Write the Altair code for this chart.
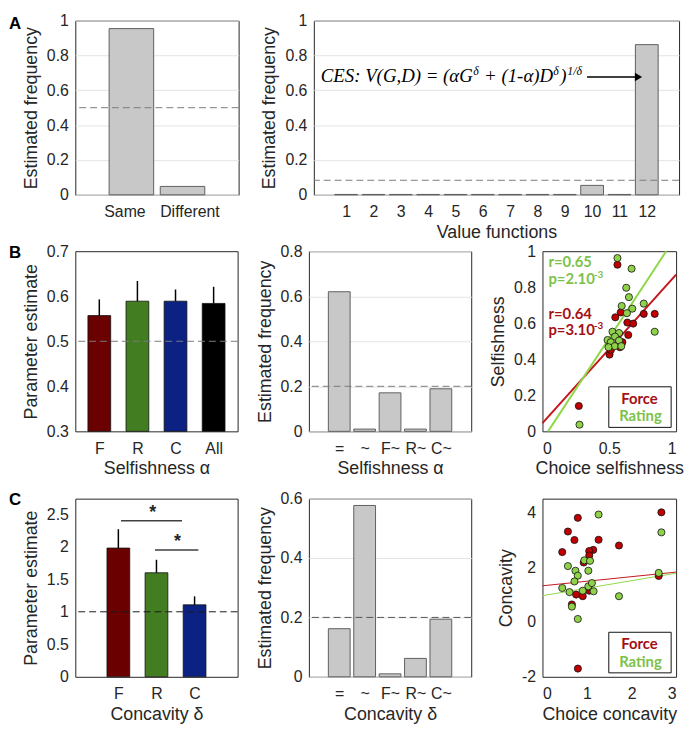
import json
import altair as alt
import pandas as pd

# ---------------- data ----------------
# A (left): same vs different model
same_diff_labels = ["Same", "Different"]
same_diff_freq = [0.954, 0.048]

# A (right): value functions
value_fn_labels = ["1", "2", "3", "4", "5", "6", "7", "8", "9", "10", "11", "12"]
value_fn_freq = [0.002, 0.002, 0.002, 0.002, 0.002, 0.002, 0.002, 0.002, 0.002, 0.054, 0.002, 0.862]

# B (left): selfishness alpha estimates
sel_groups = ["F", "R", "C", "All"]
sel_est = [0.557, 0.589, 0.589, 0.584]
sel_err = [0.593, 0.634, 0.615, 0.621]

# B (middle) / C (middle): model frequencies
model_labels = ["=", "~", "F~", "R~", "C~"]
sel_model_freq = [0.620, 0.010, 0.171, 0.010, 0.189]
conc_model_freq = [0.162, 0.577, 0.010, 0.062, 0.194]

# C (left): concavity delta estimates
conc_groups = ["F", "R", "C"]
conc_est = [1.98, 1.60, 1.107]
conc_err = [2.27, 1.80, 1.237]

# B (right): selfishness scatter
selF_x = [0.272, 0.502, 0.512, 0.545, 0.561, 0.585, 0.635, 0.679, 0.758, 0.840, 0.642, 0.598, 0.580]
selF_y = [0.141, 0.426, 0.452, 0.633, 0.925, 0.660, 0.604, 0.598, 0.652, 0.652, 0.535, 0.495, 0.467]
selR_x = [0.277, 0.561, 0.667, 0.627, 0.647, 0.593, 0.672, 0.758, 0.632, 0.840, 0.524, 0.573,
          0.543, 0.487, 0.511, 0.573, 0.541, 0.590, 0.494]
selR_y = [0.037, 0.962, 0.903, 0.797, 0.745, 0.696, 0.681, 0.709, 0.656, 0.553, 0.553, 0.546,
          0.526, 0.507, 0.495, 0.504, 0.473, 0.473, 0.467]
selF_fit_x = [0.0, 1.0]
selF_fit_y = [0.046, 0.870]
selR_fit_x = [0.042, 0.926]
selR_fit_y = [0.0, 1.0]

# C (right): concavity scatter
concF_x = [0.793, 0.571, 0.718, 0.444, 1.26, 1.718, 1.14, 1.05, 1.05, 0.926, 0.756, 0.904, 1.05,
           0.66, 0.795, 2.67, 2.61]
concF_y = [3.80, 3.30, 2.99, 2.55, 3.00, 2.79, 2.63, 2.59, 2.43, 2.17, 1.00, 0.94, 1.14,
           0.64, -1.70, 4.00, 1.68]
concR_x = [1.26, 0.571, 0.74, 0.793, 0.94, 1.067, 1.03, 0.718, 0.444, 0.607, 0.904, 1.03, 1.11,
           1.148, 1.718, 0.66, 0.793, 2.67, 2.61]
concR_y = [3.92, 2.04, 1.87, 1.69, 2.25, 2.23, 1.87, 1.48, 1.24, 1.09, 1.14, 1.30, 1.42,
           1.12, 0.94, 0.56, 0.11, 3.27, 1.79]
concF_fit_x = [0.0, 3.0]
concF_fit_y = [1.32, 1.82]
concR_fit_x = [0.0, 3.0]
concR_fit_y = [0.96, 1.78]

# ---------------- style ----------------
FONT = "Liberation Sans"
TXT = "#262626"
FILL = "#c8c8c8"
EDGE = "#5f5f5f"
GRID = "#e4e4e4"
DARKRED = "#6a0000"
DARKGREEN = "#437d22"
DARKBLUE = "#0c2283"
PT_RED = "#c00000"
PT_GREEN = "#8fd24a"
LN_RED = "#c4161c"
LN_GREEN = "#90d84a"
TX_RED = "#a50f15"
TX_GREEN = "#7cc24a"


def y_axis(values, title, grid):
    return alt.Axis(values=values, labelExpr="toString(datum.value)", title=title, grid=grid,
                    gridColor=GRID, ticks=False, domain=False, labelPadding=7, titlePadding=6,
                    labelOverlap=False, tickCount=len(values))


def x_axis(values, labels, title, label_offset=None):
    kw = dict(values=values, labelExpr=json.dumps(labels) + "[datum.value - 1]",
              title=title, grid=False, ticks=False, domain=False, labelPadding=9,
              titlePadding=4, labelAngle=0, labelOverlap=False)
    if label_offset is not None:
        kw["labelOffset"] = label_offset
    return alt.Axis(**kw)


def bar_panel(labels, values, xdomain, ydomain, yticks, ytitle, xtitle, w, h, grid,
              chance, chance_color, bar_w, colors=None, err=None, label_offset=None):
    pos = list(range(1, len(labels) + 1))
    df = pd.DataFrame({"pos": pos, "val": values})
    x = alt.X("pos:Q", scale=alt.Scale(domain=xdomain, nice=False, zero=False),
              axis=x_axis(pos, labels, xtitle, label_offset))
    y = alt.Y("val:Q", scale=alt.Scale(domain=ydomain, nice=False, zero=False),
              axis=y_axis(yticks, ytitle, grid))
    if colors is not None:
        df["col"] = colors
        bars = alt.Chart(df).mark_bar(size=bar_w, orient="vertical", stroke="#111111",
                                      strokeWidth=0.8).encode(
            x=x, y=y, y2=alt.datum(ydomain[0]), color=alt.Color("col:N", scale=None))
    else:
        bars = alt.Chart(df).mark_bar(size=bar_w, orient="vertical", fill=FILL, stroke=EDGE,
                                      strokeWidth=1).encode(x=x, y=y, y2=alt.datum(ydomain[0]))
    layers = [bars]
    layers.append(alt.Chart(pd.DataFrame({"val": [chance]})).mark_rule(
        strokeDash=[7, 4], color=chance_color, strokeWidth=1).encode(y="val:Q"))
    if err is not None:
        edf = pd.DataFrame({"pos": pos, "val": values, "err": err})
        layers.append(alt.Chart(edf).mark_rule(color="#000000", strokeWidth=1.5).encode(
            x="pos:Q", y="val:Q", y2="err:Q"))
    return layers


def letter(ch, y):
    return alt.Chart(pd.DataFrame({"a": [0]})).mark_text(
        font=FONT, fontWeight="bold", fontSize=17, align="left", baseline="alphabetic",
        color="#000000").encode(x=alt.value(-67), y=alt.value(y), text=alt.value(ch))


def label_text(txt, x, y, color, size, weight="bold", font="Lato", align="left", style=None):
    kw = dict(font=font, fontWeight=weight, fontSize=size, align=align,
              baseline="alphabetic", color=color)
    if style:
        kw["fontStyle"] = style
    return alt.Chart(pd.DataFrame({"a": [0]})).mark_text(**kw).encode(
        x=alt.value(x), y=alt.value(y), text=alt.value(txt))


def scatter_panel(fx, fy, rx, ry, ffx, ffy, rfx, rfy, xdom, ydom, xticks, yticks,
                  xtitle, ytitle, w, h, line_w, annots):
    pts = pd.DataFrame({"x": fx + rx, "y": fy + ry,
                        "col": [PT_RED] * len(fx) + [PT_GREEN] * len(rx)})
    fits = pd.DataFrame({"x": ffx + rfx, "y": ffy + rfy,
                         "g": ["F", "F", "R", "R"],
                         "col": [LN_RED, LN_RED, LN_GREEN, LN_GREEN]})
    x = alt.X("x:Q", scale=alt.Scale(domain=xdom, nice=False, zero=False),
              axis=alt.Axis(values=xticks, labelExpr="toString(datum.value)", title=xtitle,
                            grid=False, ticks=False, domain=False, labelPadding=9,
                            titlePadding=4, labelOverlap=False))
    y = alt.Y("y:Q", scale=alt.Scale(domain=ydom, nice=False, zero=False),
              axis=alt.Axis(values=yticks, labelExpr="toString(datum.value)", title=ytitle,
                            grid=False, ticks=False, domain=False, labelPadding=7,
                            titlePadding=6, labelOverlap=False))
    lines = alt.Chart(fits).mark_line(strokeWidth=line_w).encode(
        x=x, y=y, detail="g:N", color=alt.Color("col:N", scale=None))
    points = alt.Chart(pts).mark_circle(size=52, opacity=1, stroke="#111111",
                                        strokeWidth=0.8).encode(
        x=x, y=y, color=alt.Color("col:N", scale=None))
    box = alt.Chart(pd.DataFrame({"a": [0]})).mark_rect(
        fill="#ffffff", stroke="#111111", strokeWidth=1).encode(
        x=alt.value(67), x2=alt.value(130), y=alt.value(h - 45), y2=alt.value(h - 4))
    leg = [label_text("Force", 98, h - 28, TX_RED, 15, align="center"),
           label_text("Rating", 99, h - 10, TX_GREEN, 15, align="center")]
    return [lines, points, box] + leg + annots


# ---------------- panels ----------------
W_L, W_M, W_S = 164, 164, 135
H_A, H_B, H_C = 176, 182, 180
FREQ_TICKS = [0, 0.2, 0.4, 0.6, 0.8, 1]

a_left = alt.layer(
    *bar_panel(same_diff_labels, same_diff_freq, [0, 3], [0, 1], FREQ_TICKS,
               "Estimated frequency", None, 165, H_A, True, 0.5, "#7a7a7a", 45,
               label_offset={"condition": {"test": "datum.value == 1", "value": -7}, "value": 7}),
    letter("A", 8)
).properties(width=165, height=H_A)

formula_y = 62
sup_y = 55
SERIF = "Liberation Serif"
a_right = alt.layer(
    *bar_panel(value_fn_labels, value_fn_freq, [0, 13], [0, 1], FREQ_TICKS,
               "Estimated frequency", "Value functions", 369, H_A, True, 1 / 12, "#7a7a7a", 23),
    label_text("CES: V(G,D) = (αG", 7, formula_y, "#000000", 19, "normal", SERIF, style="italic"),
    label_text("δ", 161, sup_y, "#000000", 12, "normal", SERIF, style="italic"),
    label_text("+ (1-α)D", 172, formula_y, "#000000", 19, "normal", SERIF, style="italic"),
    label_text("δ", 242, sup_y, "#000000", 12, "normal", SERIF, style="italic"),
    label_text(")", 249, formula_y, "#000000", 19, "normal", SERIF, style="italic"),
    label_text("1/δ", 256, sup_y, "#000000", 12, "normal", SERIF, style="italic"),
    alt.Chart(pd.DataFrame({"a": [0]})).mark_rule(color="#000000", strokeWidth=1.5).encode(
        x=alt.value(276), x2=alt.value(326), y=alt.value(57)),
    alt.Chart(pd.DataFrame({"a": [0]})).mark_point(shape="triangle-right", filled=True, size=70,
                                                   color="#000000", opacity=1).encode(
        x=alt.value(328), y=alt.value(57)),
).properties(width=369, height=H_A)

b_left = alt.layer(
    *bar_panel(sel_groups, sel_est, [0.5, 4.5], [0.3, 0.7], [0.3, 0.4, 0.5, 0.6, 0.7],
               "Parameter estimate", "Selfishness α", W_L, H_B, False, 0.5, "#7a7a7a", 23,
               colors=[DARKRED, DARKGREEN, DARKBLUE, "#000000"], err=sel_err),
    letter("B", 7)
).properties(width=W_L, height=H_B)

b_mid = alt.layer(
    *bar_panel(model_labels, sel_model_freq, [0, 6], [0, 0.8], [0, 0.2, 0.4, 0.6, 0.8],
               "Estimated frequency", "Selfishness α", W_M, H_B, True, 0.2, "#7a7a7a", 22)
).properties(width=W_M, height=H_B)

b_right = alt.layer(
    *scatter_panel(selF_x, selF_y, selR_x, selR_y, selF_fit_x, selF_fit_y, selR_fit_x, selR_fit_y,
                   [0, 1], [0, 1], [0, 0.5, 1], FREQ_TICKS,
                   "Choice selfishness", "Selfishness", W_S, H_B, 2,
                   [label_text("r=0.65", 6, 16, TX_GREEN, 15),
                    label_text("p=2.10", 6, 33, TX_GREEN, 15),
                    label_text("-3", 52, 27, TX_GREEN, 10),
                    label_text("r=0.64", 6, 68, TX_RED, 15),
                    label_text("p=3.10", 6, 85, TX_RED, 15),
                    label_text("-3", 52, 79, TX_RED, 10)])
).properties(width=W_S, height=H_B)

sig_df = pd.DataFrame({"pos": [1.07, 1.96], "pos2": [2.67, 3.10], "val": [2.40, 1.95]})
star_df = pd.DataFrame({"pos": [1.9, 2.55], "val": [2.44, 1.99]})
c_left = alt.layer(
    *bar_panel(conc_groups, conc_est, [0, 4], [0, 2.74], [0, 0.5, 1, 1.5, 2, 2.5],
               "Parameter estimate", "Concavity δ", W_L, H_C, False, 1, "#1a1a1a", 23,
               colors=[DARKRED, DARKGREEN, DARKBLUE], err=conc_err),
    alt.Chart(sig_df).mark_rule(color="#404040", strokeWidth=1.5).encode(
        x="pos:Q", x2="pos2:Q", y="val:Q"),
    alt.Chart(star_df).mark_text(text="*", font=FONT, fontSize=18, fontWeight="bold",
                                 baseline="alphabetic", color="#262626").encode(
        x="pos:Q", y="val:Q"),
    letter("C", 6)
).properties(width=W_L, height=H_C)

c_mid = alt.layer(
    *bar_panel(model_labels, conc_model_freq, [0, 6], [0, 0.6], [0, 0.2, 0.4, 0.6],
               "Estimated frequency", "Concavity δ", W_M, H_C, True, 0.2, "#555555", 22)
).properties(width=W_M, height=H_C)

c_right = alt.layer(
    *scatter_panel(concF_x, concF_y, concR_x, concR_y, concF_fit_x, concF_fit_y, concR_fit_x,
                   concR_fit_y, [0, 3], [-2, 4.5], [0, 1, 2, 3], [-2, 0, 2, 4],
                   "Choice concavity", "Concavity", W_S, H_C, 1, [])
).properties(width=W_S, height=H_C)

rowA = alt.hconcat(a_left, a_right, spacing=76, bounds="flush")
rowB = alt.hconcat(b_left, b_mid, b_right, spacing=72, bounds="flush")
rowC = alt.hconcat(c_left, c_mid, c_right, spacing=72, bounds="flush")

chart = alt.vconcat(rowA, alt.vconcat(rowB, rowC, spacing=11), spacing=0).properties(
    padding=0
).configure_view(
    stroke=TXT, strokeWidth=1
).configure_axis(
    labelFont=FONT, labelFontSize=16, labelColor=TXT, labelOverlap=False,
    titleFont=FONT, titleFontSize=18, titleFontWeight="normal", titleColor=TXT
)

chart.save("out.html", embed_options={"renderer": "svg", "actions": False})
